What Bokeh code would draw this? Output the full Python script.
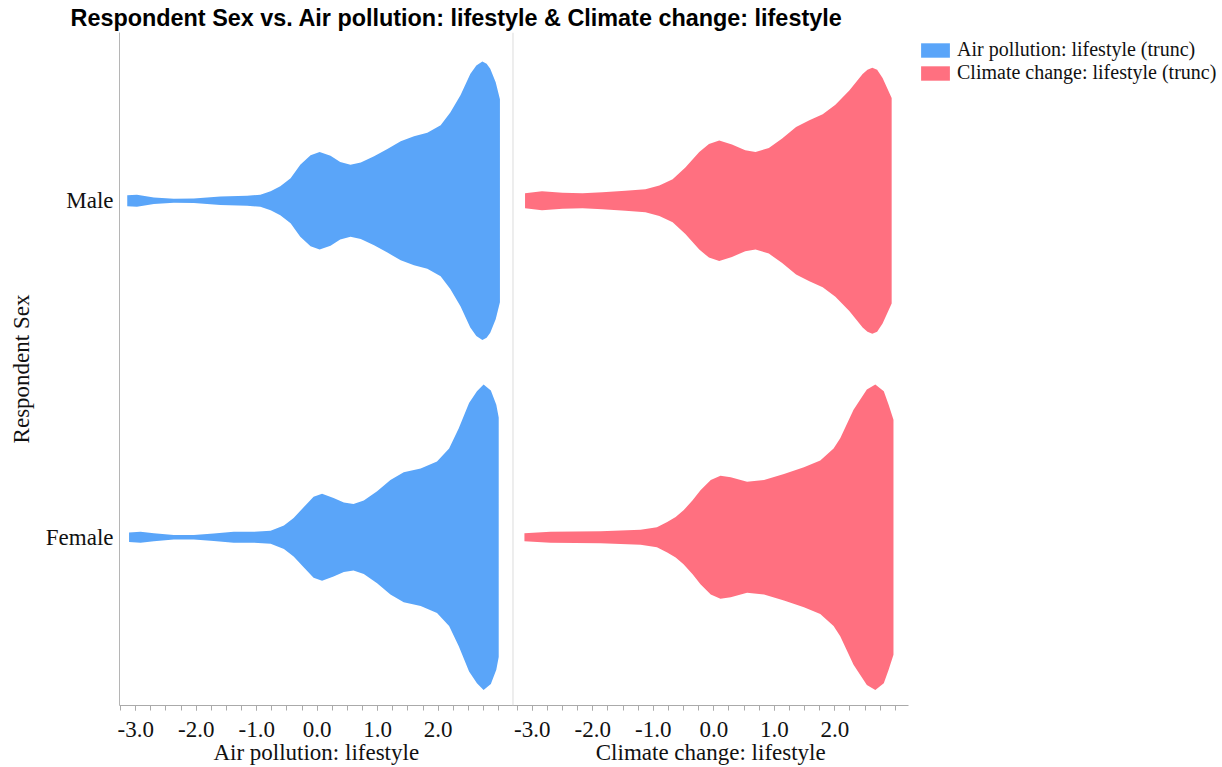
import numpy as np
from bokeh.plotting import figure
from bokeh.models import (Range1d, FixedTicker, CustomJSTickFormatter, Legend,
                          LegendItem, LinearAxis, ColumnDataSource, Span)
from bokeh.embed import file_html
from bokeh.resources import INLINE

# ---------------- data ----------------
categories = ["Female", "Male"]
x_titles = ["Air pollution: lifestyle", "Climate change: lifestyle"]
legend_labels = ["Air pollution: lifestyle (trunc)", "Climate change: lifestyle (trunc)"]
y_title = "Respondent Sex"
chart_title = "Respondent Sex vs. Air pollution: lifestyle & Climate change: lifestyle"
colors = ["#5aa5f9", "#ff7080"]
x_tick_values = [-3, -2, -1, 0, 1, 2]

# violin half-widths (in category units) along the value axis
air_male_x = [-3.14, -2.98, -2.70, -2.37, -2.04, -1.60, -1.16, -0.94, -0.77, -0.61,
              -0.44, -0.28, -0.11, 0.04, 0.22, 0.38, 0.55, 0.72, 0.94, 1.16,
              1.38, 1.60, 1.82, 2.04, 2.20, 2.37, 2.53, 2.63, 2.73, 2.80,
              2.86, 2.95, 3.02]
air_male_w = [0.016, 0.018, 0.010, 0.006, 0.007, 0.013, 0.015, 0.018, 0.028, 0.043,
              0.067, 0.107, 0.135, 0.145, 0.134, 0.115, 0.107, 0.114, 0.132, 0.154,
              0.177, 0.192, 0.202, 0.224, 0.262, 0.314, 0.377, 0.402, 0.414, 0.407,
              0.392, 0.352, 0.302]

air_female_x = [-3.11, -2.92, -2.70, -2.37, -2.04, -1.71, -1.38, -1.05, -0.77, -0.55,
                -0.39, -0.22, -0.06, 0.08, 0.27, 0.44, 0.60, 0.77, 0.99, 1.21,
                1.43, 1.71, 1.98, 2.18, 2.34, 2.51, 2.64, 2.75, 2.87, 2.96, 3.00]
air_female_w = [0.014, 0.016, 0.012, 0.007, 0.007, 0.011, 0.016, 0.016, 0.019, 0.035,
                0.057, 0.090, 0.120, 0.129, 0.117, 0.103, 0.099, 0.109, 0.137, 0.170,
                0.193, 0.204, 0.225, 0.264, 0.324, 0.399, 0.434, 0.454, 0.436, 0.394, 0.356]

climate_male_x = [-3.12, -2.84, -2.50, -2.17, -1.84, -1.46, -1.13, -0.90, -0.68, -0.47,
                  -0.24, -0.08, 0.09, 0.30, 0.52, 0.69, 0.91, 1.13, 1.36, 1.58,
                  1.80, 2.01, 2.24, 2.46, 2.54, 2.62, 2.70, 2.79, 2.94]
climate_male_w = [0.022, 0.028, 0.024, 0.022, 0.025, 0.030, 0.034, 0.045, 0.064, 0.099,
                  0.145, 0.169, 0.179, 0.167, 0.150, 0.145, 0.157, 0.185, 0.219, 0.239,
                  0.257, 0.285, 0.328, 0.377, 0.389, 0.395, 0.389, 0.365, 0.305]

climate_female_x = [-3.13, -2.70, -1.87, -1.21, -0.94, -0.77, -0.63, -0.50, -0.35, -0.22,
                    -0.05, 0.11, 0.28, 0.55, 0.83, 1.16, 1.49, 1.76, 1.98, 2.09,
                    2.31, 2.53, 2.67, 2.81, 2.89, 2.97]
climate_female_w = [0.012, 0.016, 0.018, 0.022, 0.030, 0.045, 0.060, 0.080, 0.110, 0.140,
                    0.170, 0.183, 0.178, 0.165, 0.170, 0.188, 0.208, 0.228, 0.264, 0.294,
                    0.379, 0.439, 0.454, 0.434, 0.394, 0.349]

# value extent of each panel
air_bounds = (-3.268, 3.236)
climate_bounds = (-3.319, 3.218)

# ---------------- layout constants ----------------
W, H = 1222, 767
FRAME_L = 119            # frame spans to the right edge; the legend lives inside it
PX_PER_UNIT = 60.5
TXT = "#111111"
AX = "#aaaaaa"
SERIF = "Liberation Serif"

span_units = (W - FRAME_L) / PX_PER_UNIT
# the climate panel starts where the air panel ends: offset between the two value scales
shift = air_bounds[1] - climate_bounds[0]
boundary = air_bounds[1]

p = figure(width=W, height=H, output_backend="svg", toolbar_location=None,
           x_range=Range1d(air_bounds[0], air_bounds[0] + span_units),
           y_range=Range1d(-0.5, 1.5),
           min_border_left=FRAME_L, min_border_right=0,
           min_border_top=32, min_border_bottom=0)
p.extra_x_ranges = {"climate": Range1d(air_bounds[0] - shift, air_bounds[0] + span_units - shift)}
p.grid.visible = False
p.outline_line_color = None


def violin_source(xs, ws, cat):
    c = categories.index(cat)
    xs = np.asarray(xs, dtype=float)
    ws = np.asarray(ws, dtype=float)
    return ColumnDataSource(dict(x=xs, y1=c - ws, y2=c + ws))


r_air = [p.varea(x="x", y1="y1", y2="y2", source=violin_source(xs, ws, cat),
                 fill_color=colors[0], fill_alpha=1.0)
         for cat, xs, ws in [("Male", air_male_x, air_male_w),
                             ("Female", air_female_x, air_female_w)]]
r_clim = [p.varea(x="x", y1="y1", y2="y2", source=violin_source(xs, ws, cat),
                  fill_color=colors[1], fill_alpha=1.0, x_range_name="climate")
          for cat, xs, ws in [("Male", climate_male_x, climate_male_w),
                              ("Female", climate_female_x, climate_female_w)]]

# divider between the two panels
p.add_layout(Span(location=boundary, dimension="height", line_color="#dddddd", line_width=1))

# ---------------- x axis (two panels on one rule) ----------------
minor = np.arange(-3.25, 3.26, 0.25)
major_pos = list(x_tick_values) + [v + shift for v in x_tick_values]
minor_pos = ([float(v) for v in minor if air_bounds[0] <= v < boundary] +
             [float(v) + shift for v in minor if climate_bounds[0] <= v <= climate_bounds[1]])

ax = p.xaxis[0]
ax.bounds = (air_bounds[0], climate_bounds[1] + shift)
ax.ticker = FixedTicker(ticks=major_pos, minor_ticks=minor_pos)
ax.formatter = CustomJSTickFormatter(args=dict(shift=shift, boundary=boundary), code="""
    const v = tick > boundary ? tick - shift : tick;
    return (Math.round(v * 10) / 10).toFixed(1);
""")
ax.major_label_text_font = SERIF
ax.major_label_text_font_size = "23px"
ax.major_label_text_color = TXT
ax.major_label_standoff = 11
ax.axis_line_color = AX
ax.major_tick_line_color = AX
ax.minor_tick_line_color = AX
ax.major_tick_in = 0
ax.major_tick_out = 5
ax.minor_tick_in = 0
ax.minor_tick_out = 5

# axis titles, one centred under each panel
centers = [(air_bounds[0] + air_bounds[1]) / 2,
           (climate_bounds[0] + climate_bounds[1]) / 2 + shift]
title_axis = LinearAxis(
    ticker=FixedTicker(ticks=centers, minor_ticks=[]),
    formatter=CustomJSTickFormatter(args=dict(names=x_titles, boundary=boundary),
                                    code="return tick < boundary ? names[0] : names[1];"),
    axis_line_color=None, major_tick_line_color=None, minor_tick_line_color=None,
    major_tick_in=0, major_tick_out=0, minor_tick_in=0, minor_tick_out=0,
    major_label_standoff=0, major_label_text_font=SERIF,
    major_label_text_font_size="23px", major_label_text_color=TXT)
p.add_layout(title_axis, "below")

# ---------------- y axis ----------------
ya = p.yaxis[0]
ya.ticker = FixedTicker(ticks=list(range(len(categories))))
ya.major_label_overrides = {i: c for i, c in enumerate(categories)}
ya.major_label_text_font = SERIF
ya.major_label_text_font_size = "23px"
ya.major_label_text_color = TXT
ya.major_label_standoff = 6
ya.major_tick_line_color = None
ya.minor_tick_line_color = None
ya.major_tick_out = 0
ya.minor_tick_out = 0
ya.axis_line_color = "#b5b5b5"
ya.axis_label = y_title
ya.axis_label_text_font = SERIF
ya.axis_label_text_font_size = "23px"
ya.axis_label_text_font_style = "normal"
ya.axis_label_text_color = TXT
ya.axis_label_standoff = 9

# ---------------- title ----------------
p.title.text = chart_title
p.title.align = "left"
p.title.offset = -49
p.title.standoff = 3
p.title.text_font = "Liberation Sans"
p.title.text_font_style = "bold"
p.title.text_font_size = "23.4px"
p.title.text_color = "#000000"

# ---------------- legend (inside the frame, right of the panels) ----------------
legend = Legend(items=[LegendItem(label=legend_labels[0], renderers=[r_air[0]]),
                       LegendItem(label=legend_labels[1], renderers=[r_clim[0]])],
                location=(798, 621))
legend.border_line_color = None
legend.background_fill_alpha = 0
legend.padding = 0
legend.margin = 0
legend.spacing = 0
legend.glyph_width = 36
legend.glyph_height = 18
legend.label_height = 18
legend.label_standoff = 4
legend.label_text_font = SERIF
legend.label_text_font_size = "20px"
legend.label_text_color = TXT
p.add_layout(legend)

with open("out.html", "w") as f:
    f.write(file_html(p, INLINE))
